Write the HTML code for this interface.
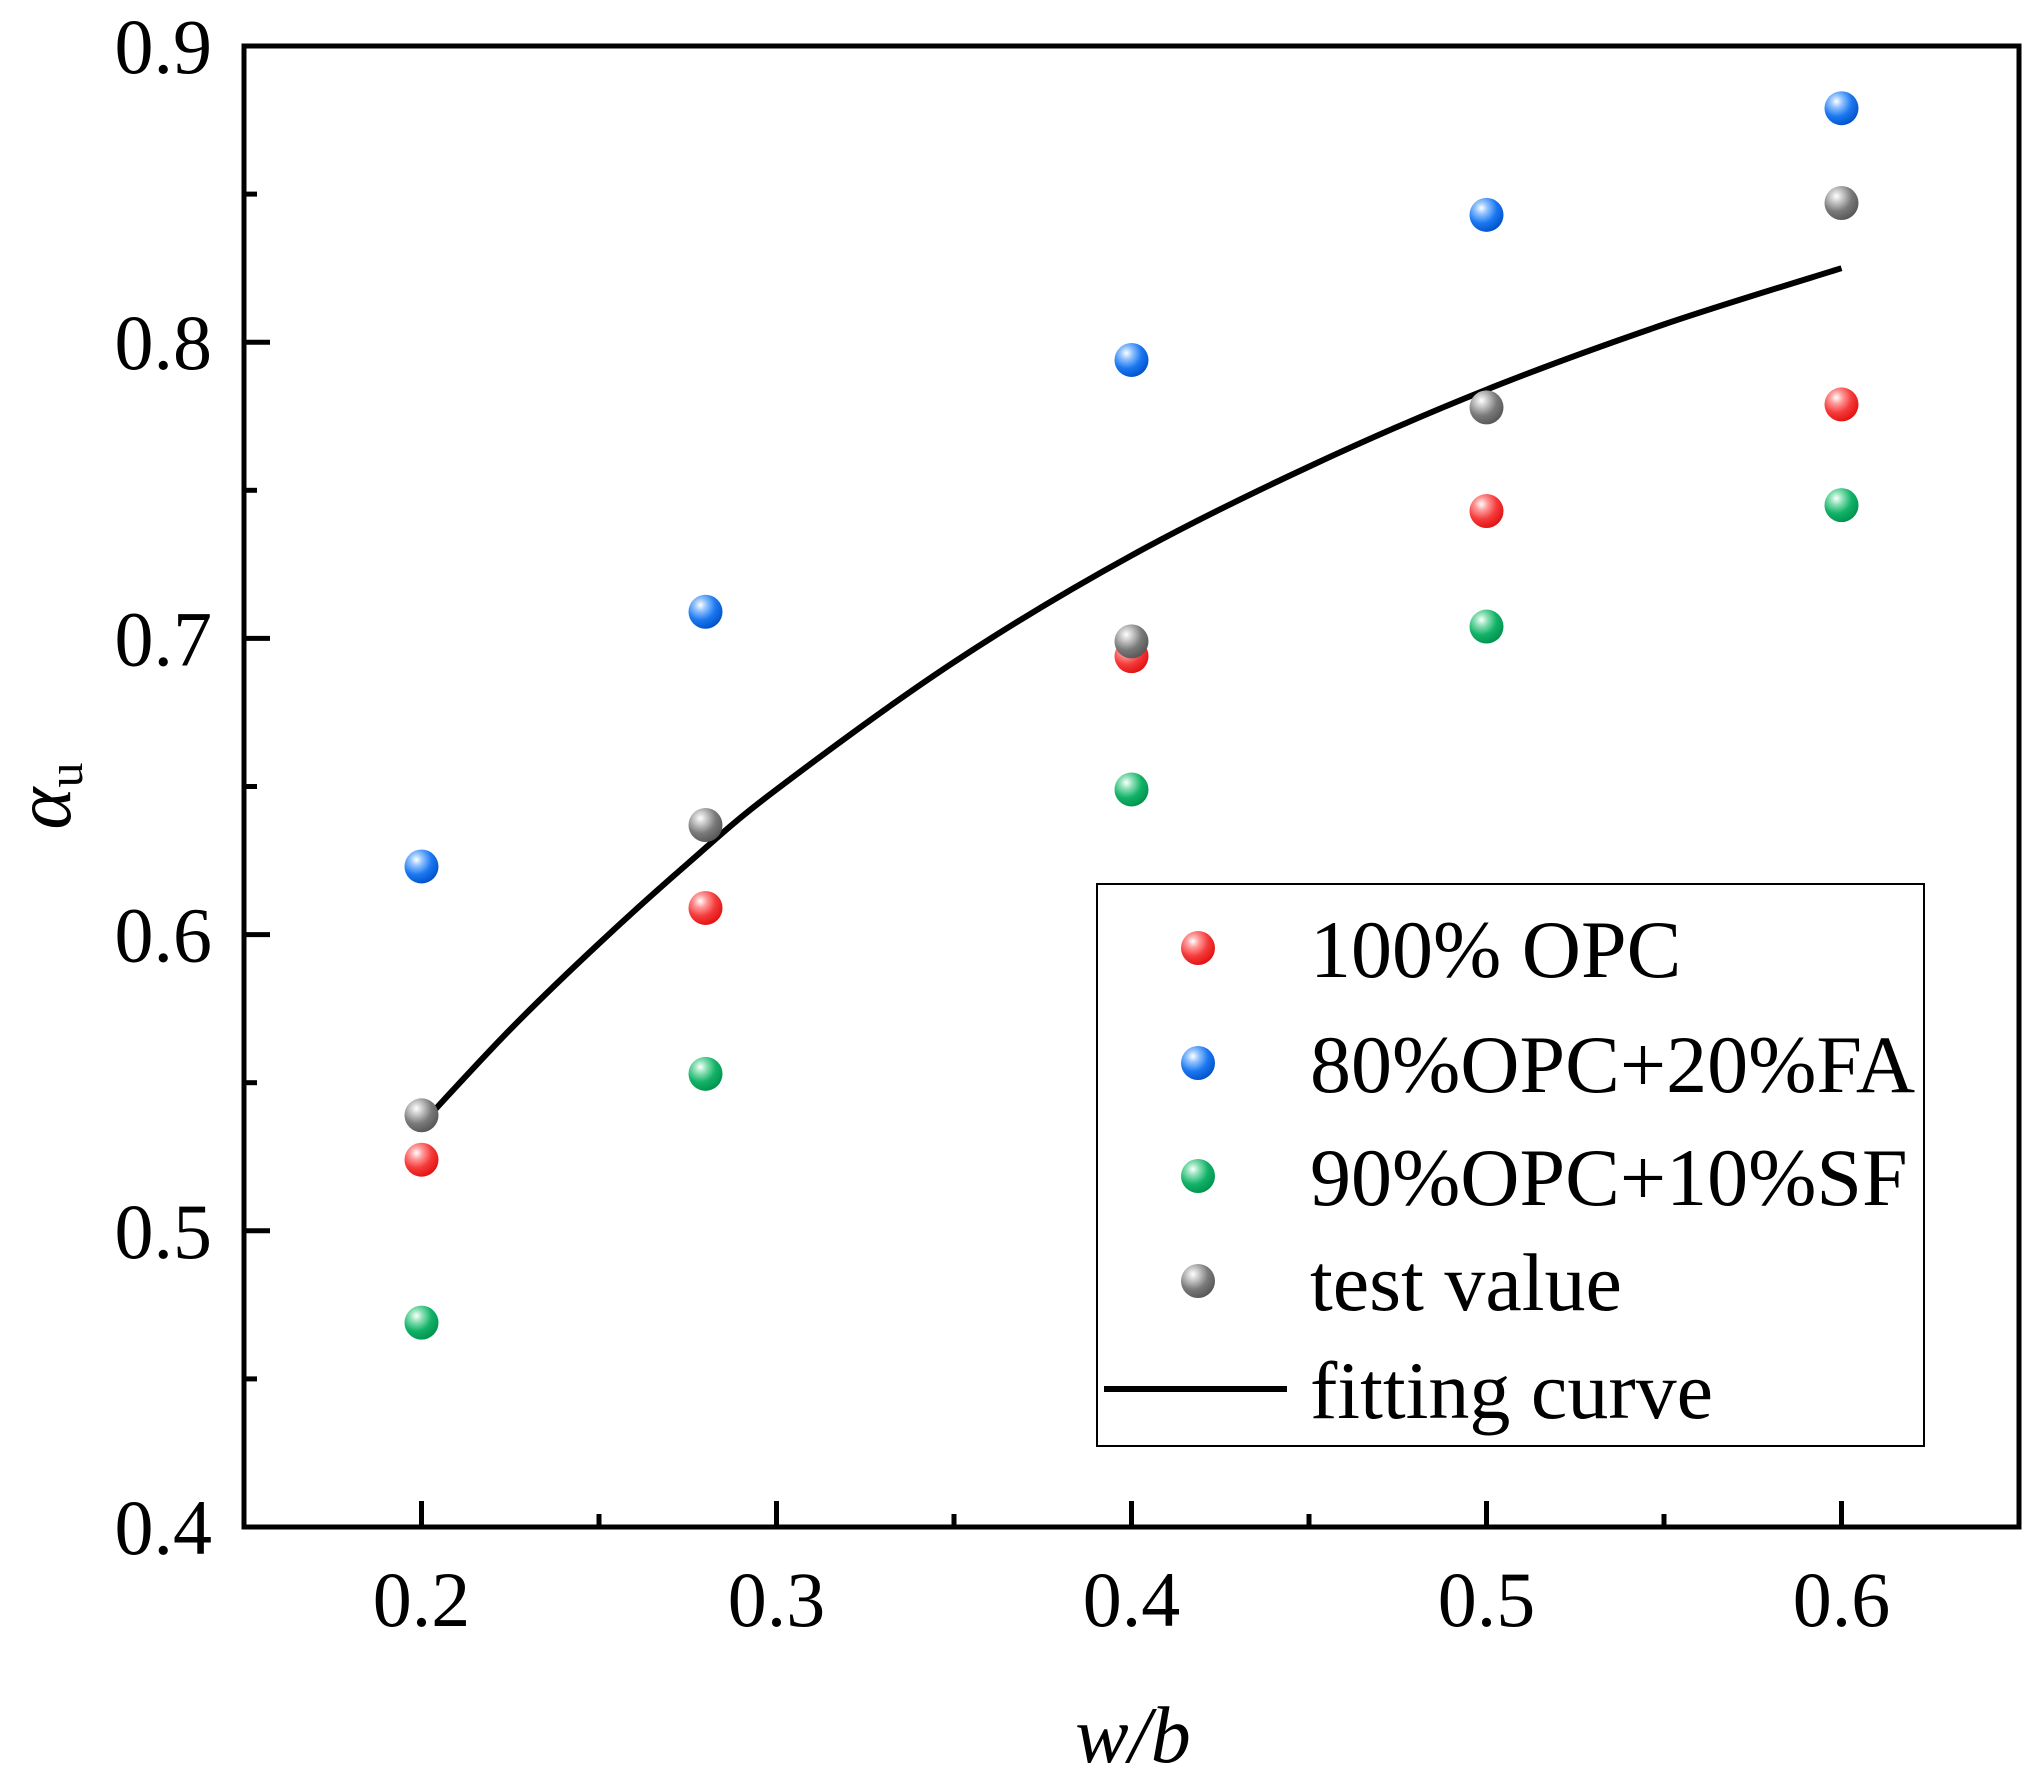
<!DOCTYPE html>
<html><head><meta charset="utf-8"><style>
html,body{margin:0;padding:0;background:#fff;}
svg text{font-family:"Liberation Serif",serif;fill:#000;}
</style></head><body>
<svg id="chart" width="2044" height="1782" viewBox="0 0 2044 1782" xmlns="http://www.w3.org/2000/svg">
<defs>
<radialGradient id="gr" cx="0.35" cy="0.3" r="0.75"><stop offset="0" stop-color="#fff"/><stop offset="0.25" stop-color="#ff9a9a"/><stop offset="0.6" stop-color="#f53a3a"/><stop offset="1" stop-color="#e01010"/></radialGradient>
<radialGradient id="gb" cx="0.35" cy="0.3" r="0.75"><stop offset="0" stop-color="#fff"/><stop offset="0.25" stop-color="#8ec0ff"/><stop offset="0.6" stop-color="#1b78f0"/><stop offset="1" stop-color="#0050c8"/></radialGradient>
<radialGradient id="gg" cx="0.35" cy="0.3" r="0.75"><stop offset="0" stop-color="#fff"/><stop offset="0.25" stop-color="#8ae0b4"/><stop offset="0.6" stop-color="#12b268"/><stop offset="1" stop-color="#00914e"/></radialGradient>
<radialGradient id="gk" cx="0.35" cy="0.3" r="0.75"><stop offset="0" stop-color="#fff"/><stop offset="0.25" stop-color="#c8c8c8"/><stop offset="0.6" stop-color="#7a7a7a"/><stop offset="1" stop-color="#555"/></radialGradient>
</defs>
<g id="plot"></g>
</svg>
<script>
const xCats = [0.2, 0.28, 0.4, 0.5, 0.6];
const opc100 = [0.524, 0.609, 0.694, 0.743, 0.779];
const opcFA = [0.623, 0.709, 0.794, 0.843, 0.879];
const opcSF = [0.469, 0.553, 0.649, 0.704, 0.745];
const testVal = [0.539, 0.637, 0.699, 0.778, 0.847];
const fitX = [0.2, 0.225, 0.25, 0.275, 0.3, 0.35, 0.4, 0.45, 0.5, 0.55, 0.6];
const fitY = [0.536, 0.568, 0.597, 0.624, 0.649, 0.692, 0.728, 0.758, 0.784, 0.806, 0.825];
const xTicks = [0.2, 0.3, 0.4, 0.5, 0.6];
const xMinor = [0.25, 0.35, 0.45, 0.55];
const yTicks = [0.4, 0.5, 0.6, 0.7, 0.8, 0.9];
const yMinor = [0.45, 0.55, 0.65, 0.75, 0.85];

const L=244,R=2019,T=46,B=1527;
const X0=0.15,X1=0.65,Y0=0.4,Y1=0.9;
const sx=v=>L+(v-X0)/(X1-X0)*(R-L);
const sy=v=>B-(v-Y0)/(Y1-Y0)*(B-T);
const NS='http://www.w3.org/2000/svg';
const g=document.getElementById('plot');
function mk(tag,attrs,parent){const e=document.createElementNS(NS,tag);for(const k in attrs)e.setAttribute(k,attrs[k]);(parent||g).appendChild(e);return e;}

let fr=mk('rect',{x:L,y:T,width:R-L,height:B-T,fill:'none',stroke:'#000','stroke-width':5});



xTicks.forEach(v=>{
  let t=mk('line',{x1:sx(v),x2:sx(v),y1:B,y2:B-26,stroke:'#000','stroke-width':5});
  
  
  let l=mk('text',{x:sx(v),y:1626,'font-size':78,'text-anchor':'middle'});l.textContent=v.toFixed(1);
  
  
});
xMinor.forEach(v=>{
  let t=mk('line',{x1:sx(v),x2:sx(v),y1:B,y2:B-13,stroke:'#000','stroke-width':5});
  
  
});
yTicks.forEach(v=>{
  let t=mk('line',{x1:L,x2:L+26,y1:sy(v),y2:sy(v),stroke:'#000','stroke-width':5});
  
  
  let l=mk('text',{x:212,y:sy(v)+27,'font-size':78,'text-anchor':'end'});l.textContent=v.toFixed(1);
  
  
});
yMinor.forEach(v=>{
  let t=mk('line',{x1:L,x2:L+13,y1:sy(v),y2:sy(v),stroke:'#000','stroke-width':5});
  
  
});

let xt=mk('text',{x:1133,y:1762,'font-size':80,'text-anchor':'middle','font-style':'italic'});xt.textContent='w/b';


let yt=mk('text',{transform:'translate(70,796) rotate(-90)','font-size':80,'text-anchor':'middle'});


let a=mk('tspan',{'font-style':'italic'},yt);a.textContent='α';
let s=mk('tspan',{'font-size':50,dy:12},yt);s.textContent='u';

// smooth fit curve (Catmull-Rom)
const P=fitX.map((v,i)=>[sx(v),sy(fitY[i])]);
let d='M'+P[0][0].toFixed(1)+','+P[0][1].toFixed(1);
for(let i=0;i<P.length-1;i++){
  const p0=P[Math.max(i-1,0)],p1=P[i],p2=P[i+1],p3=P[Math.min(i+2,P.length-1)];
  const c1=[p1[0]+(p2[0]-p0[0])/6,p1[1]+(p2[1]-p0[1])/6];
  const c2=[p2[0]-(p3[0]-p1[0])/6,p2[1]-(p3[1]-p1[1])/6];
  d+=' C'+c1.map(n=>n.toFixed(1)).join(',')+' '+c2.map(n=>n.toFixed(1)).join(',')+' '+p2.map(n=>n.toFixed(1)).join(',');
}
let c=mk('path',{d:d,fill:'none',stroke:'#000','stroke-width':6,'stroke-linejoin':'round'});



function series(vals,grad,name){
  vals.forEach((v,i)=>{
    let p=mk('circle',{cx:sx(xCats[i]),cy:sy(v),r:17,fill:'url(#'+grad+')'});
    
    
  });
}
series(opc100,'gr','opc100');
series(opcFA,'gb','opc-fa');
series(opcSF,'gg','opc-sf');
series(testVal,'gk','test-value');

let lg=mk('rect',{x:1097,y:884,width:827,height:562,fill:'#fff',stroke:'#000','stroke-width':2});


const legNames=['100% OPC','80%OPC+20%FA','90%OPC+10%SF','test value','fitting curve'];
const legGrads=['gr','gb','gg','gk',null];
const legY=[948,1063,1176,1281,1389];
legNames.forEach((n,i)=>{
  if(legGrads[i]){
    let m=mk('circle',{cx:1198,cy:legY[i],r:17,fill:'url(#'+legGrads[i]+')'});
    
    
  } else {
    let m=mk('line',{x1:1104,x2:1287,y1:legY[i],y2:legY[i],stroke:'#000','stroke-width':6});
    
    
  }
  let t=mk('text',{x:1310,y:legY[i]+29,'font-size':82});t.textContent=n;
  
  
});
</script>
</body></html>
